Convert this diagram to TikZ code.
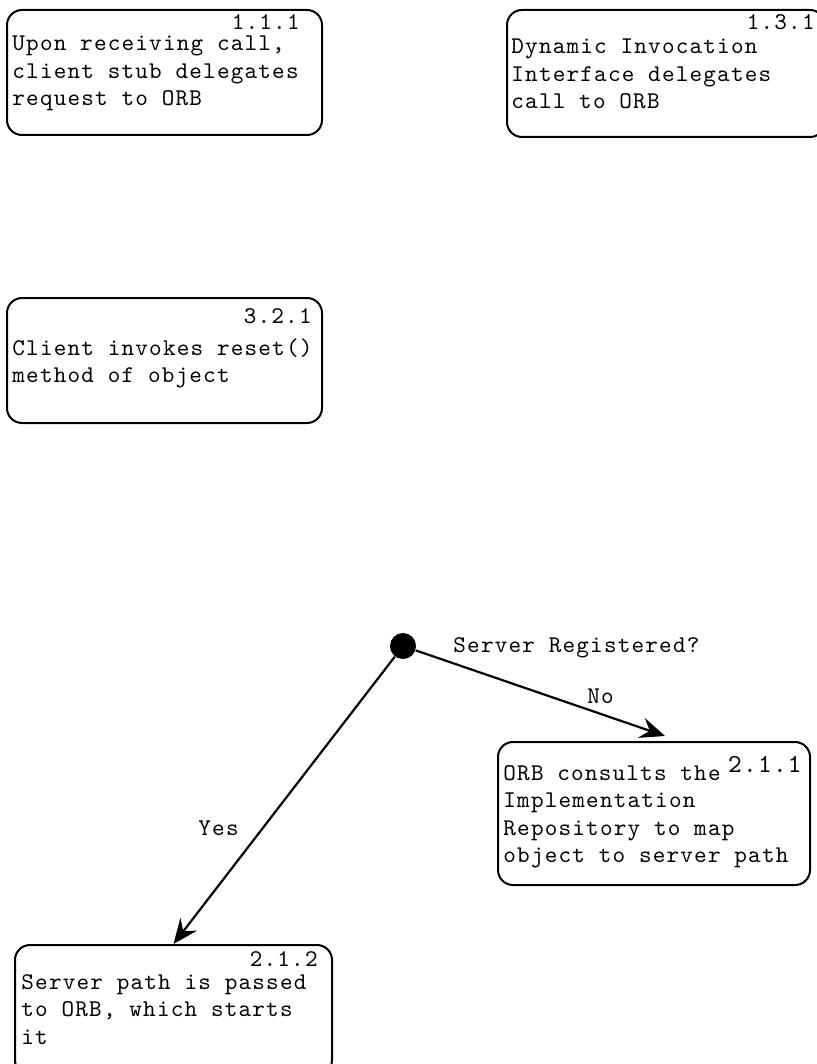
\documentclass[tikz,border=0pt]{standalone}
\usepackage{fontspec}
\newfontfamily\typewriter{lmmono10-regular.otf}[LetterSpace=5]
\usetikzlibrary{arrows.meta,calc}

\tikzset{
  every picture/.style={x=0.5pt,y=-0.5pt},
  activity/.style={draw, line width=1pt, rounded corners=7.5pt, inner sep=0pt},
  body/.style={anchor=base west, inner sep=0pt,
    font=\typewriter\fontsize{12}{13.75}\selectfont},
  tag/.style={anchor=base east, inner sep=0pt,
    font=\typewriter\fontsize{12}{13.75}\selectfont},
  caption/.style={anchor=base west, inner sep=0pt,
    font=\typewriter\fontsize{12}{13.75}\selectfont},
  decision/.style={circle, fill=black, minimum size=13pt, inner sep=0pt},
  flow/.style={line width=1.1pt, -{Stealth[length=12.5pt,width=10.5pt,inset=4.5pt]}}
}

\begin{document}
\begin{tikzpicture}
\useasboundingbox (0,0) rectangle (817,1064);
\clip (0,0) rectangle (817,1064);

% activity boxes
\node[activity, minimum width=157.5pt, minimum height=62.5pt] (b111) at (164.5,72.5) {};
\node[tag] (t111) at (300,30) {1.1.1};
\node[body] (x111) at (12,51) {\begin{tabular}[t]{@{}l@{}}Upon receiving call,\\client stub delegates\\request to ORB\end{tabular}};

\node[activity, minimum width=159pt, minimum height=63.5pt] (b131) at (666,73.5) {};
\node[tag] (t131) at (815,30) {1.3.1};
\node[body] (x131) at (511,54) {\begin{tabular}[t]{@{}l@{}}Dynamic Invocation\\Interface delegates\\call to ORB\end{tabular}};

\node[activity, minimum width=157.5pt, minimum height=62.5pt] (b321) at (164.5,360.5) {};
\node[tag] (t321) at (312,323) {3.2.1};
\node[body] (x321) at (12,355) {\begin{tabular}[t]{@{}l@{}}Client invokes reset()\\method of object\end{tabular}};

\node[activity, minimum width=156pt, minimum height=71.5pt] (b211) at (654,813.5) {};
\node[tag, font=\typewriter\fontsize{13}{15}\selectfont] (t211) at (802,772) {2.1.1};
\node[body] (x211) at (503,780) {\begin{tabular}[t]{@{}l@{}}ORB consults the\\Implementation\\Repository to map\\object to server path\end{tabular}};

\node[activity, minimum width=158.5pt, minimum height=65pt] (b212) at (173.5,1010) {};
\node[tag] (t212) at (318,966) {2.1.2};
\node[body] (x212) at (21,989) {\begin{tabular}[t]{@{}l@{}}Server path is passed\\to ORB, which starts\\it\end{tabular}};

% decision point and its branches
\node[decision] (dot) at (403,646) {};
\node[caption] (q) at (453,652) {Server Registered?};
\node[caption] (no) at (587,703) {No};
\node[caption] (yes) at (198,835) {Yes};

\draw[flow] (dot) -- ($(b211.north)+(11,-5)$);
\draw[flow] (dot) -- (b212.north);
\end{tikzpicture}
\end{document}
